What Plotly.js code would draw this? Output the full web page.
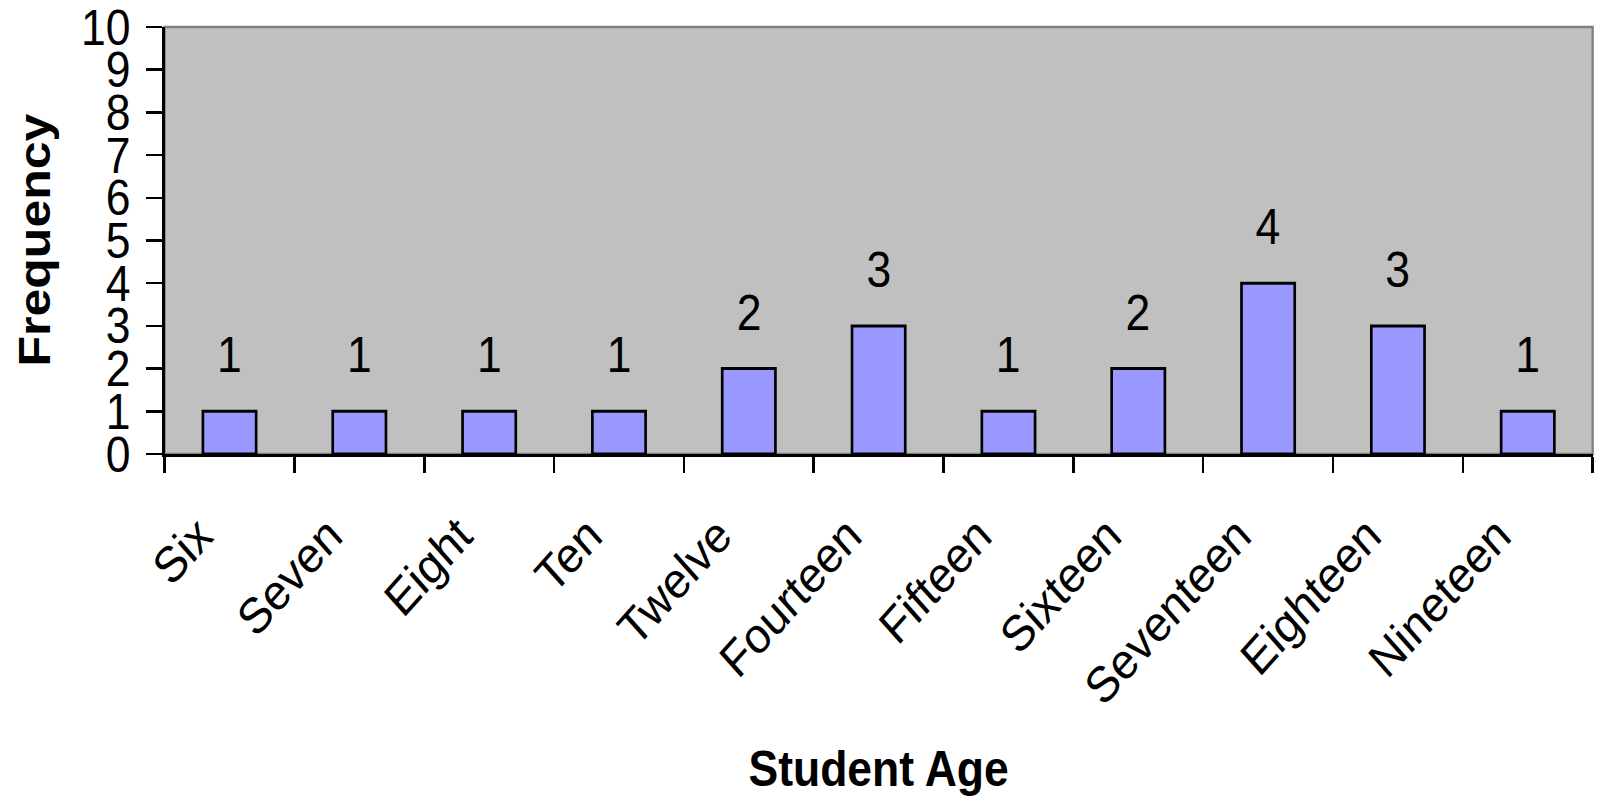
<!DOCTYPE html>
<html>
<head>
<meta charset="utf-8">
<script src="https://cdn.plot.ly/plotly-3.0.1.min.js"></script>
<style>
html,body{margin:0;padding:0;background:#fff;overflow:hidden;}
#wrap{width:1598px;height:800px;overflow:hidden;position:relative;}
#chart{width:1796px;height:800px;transform:scaleX(0.88976);transform-origin:0 0;position:absolute;left:0;top:0;}
</style>
</head>
<body>
<div id="wrap"><div id="chart"></div></div>
<script>
const categories = ["Six","Seven","Eight","Ten","Twelve","Fourteen","Fifteen","Sixteen","Seventeen","Eighteen","Nineteen"];
const frequency = [1,1,1,1,2,3,1,2,4,3,1];
const yTicks = [0,1,2,3,4,5,6,7,8,9,10];

const FONT = "Liberation Sans, Arial, sans-serif";

const trace = {
  type: "bar",
  x: categories,
  y: frequency,
  width: 0.41,
  marker: {color: "#9999FF", line: {color: "#000000", width: 3}},
  hoverinfo: "x+y"
};

const annotations = categories.map((c, i) => ({
  x: c, y: frequency[i], xref: "x", yref: "y",
  text: String(frequency[i]), showarrow: false,
  yanchor: "bottom", yshift: 26,
  font: {family: FONT, size: 50, color: "#000"}
}));

annotations.push({
  xref: "paper", yref: "paper", x: 0, y: 0.5, xshift: -146,
  xanchor: "center", yanchor: "middle", textangle: -90,
  text: "<b>Frequency</b>", showarrow: false,
  font: {family: FONT, size: 50, color: "#000"}
});

const layout = {
  width: 1796, height: 800,
  margin: {l: 185, r: 6, t: 27, b: 346, pad: 0},
  paper_bgcolor: "#ffffff",
  plot_bgcolor: "#C0C0C0",
  showlegend: false,
  bargap: 0.59,
  xaxis: {
    type: "category",
    showgrid: false, zeroline: false,
    showline: true, linecolor: "#000", linewidth: 3,
    ticks: "outside", ticklen: 16, tickwidth: 2.8, tickcolor: "#000",
    tickson: "boundaries",
    tickangle: -45,
    ticklabelstandoff: 29,
    ticklabelshift: -34,
    tickfont: {family: FONT, size: 50, color: "#000"},
    title: {text: "<b>Student Age</b>", font: {family: FONT, size: 50, color: "#000"}, standoff: 37},
    automargin: false
  },
  yaxis: {
    range: [0, 10],
    tickvals: yTicks,
    ticktext: yTicks.map(String),
    showgrid: false, zeroline: false,
    showline: true, linecolor: "#000", linewidth: 3.4,
    ticks: "outside", ticklen: 17, tickwidth: 2.5, tickcolor: "#000",
    tickfont: {family: FONT, size: 50, color: "#000"},
    ticklabelstandoff: 8,
    ticklabeloverflow: "allow",
    automargin: false
  },
  shapes: [{
    type: "rect", xref: "paper", yref: "paper", x0: 0, y0: 0, x1: 1, y1: 1,
    line: {color: "#808080", width: 2.6}, layer: "below"
  }],
  annotations: annotations
};

Plotly.newPlot("chart", [trace], layout, {displayModeBar: false, staticPlot: true});
</script>
</body>
</html>
